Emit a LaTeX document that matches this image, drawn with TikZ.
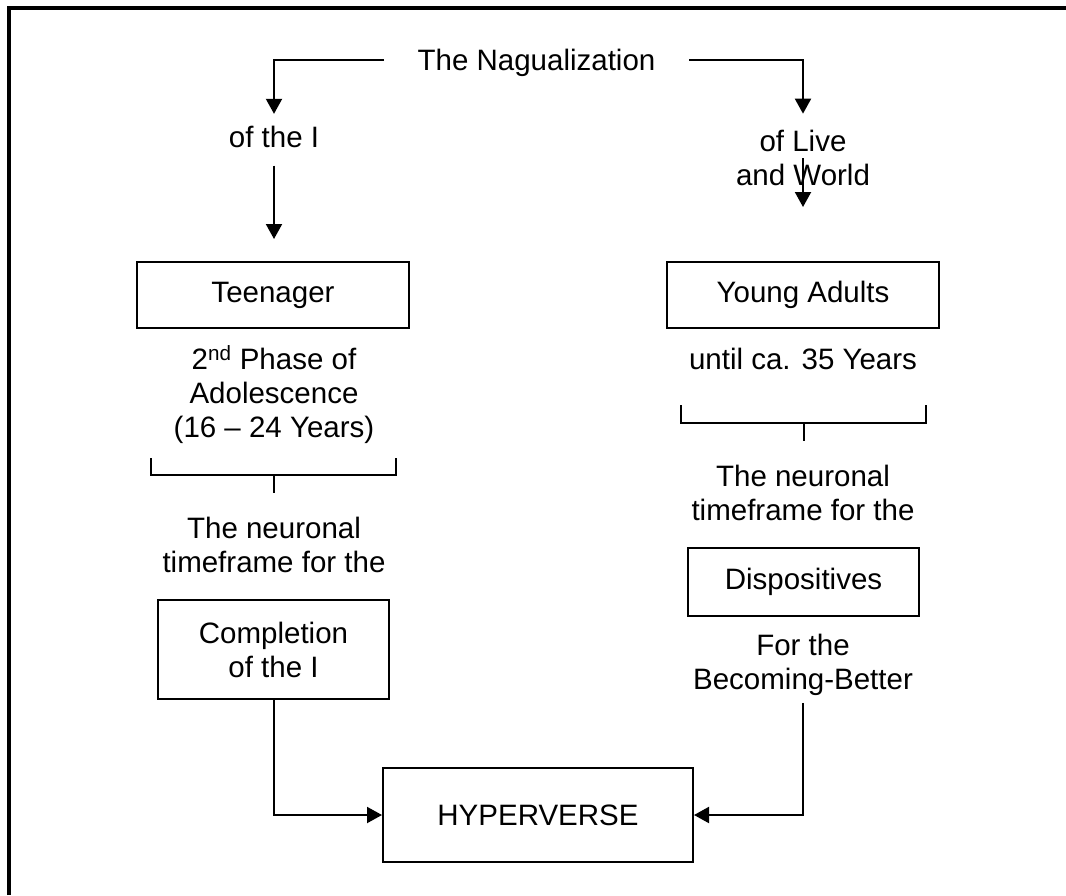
\documentclass[tikz,border=0pt]{standalone}
\usepackage{fontspec}
\setmainfont{Liberation Sans}
\usetikzlibrary{arrows.meta}

\begin{document}
\begin{tikzpicture}[x=1pt,y=-1pt,line width=2pt,
  arr/.style={-{Triangle[length=15pt,width=16pt]}},
  lbl/.style={align=center},
  box/.style={draw,align=center}]
\tikzstyle{every node}+=[inner sep=0pt,font=\fontsize{29.5}{34}\selectfont]
\useasboundingbox (0,0) rectangle (1066,895);
\draw [line width=4pt] (9,895) -- (9,8) -- (1066,8);
% top
\node (title) [minimum width=303pt,text depth=0pt] at (536.5,60) {The Nagualization};
\node (ofI) [text depth=0pt] at (274,137) {of the I};
\node (livew) [lbl] at (803,158) {of Live\\and World};
\draw [arr,shorten >=11.5pt] (title.west) -| (ofI.north);
\draw [arr,shorten >=15.5pt] (title.east) -| (livew.north);
% left column
\node (teen) [box,minimum width=272pt,minimum height=66pt] at (273,295) {Teenager};
\draw [arr,shorten <=17pt,shorten >=22pt] (ofI.south) -- (ofI.south |- teen.north);
\node (adol) [lbl] at (274,395) {2\textsuperscript{nd} Phase of\\Adolescence\\(16 – 24 Years)};
\draw (151,458) -- (151,475) -- (396,475) -- (396,458);
\draw (273.5,475) -- (273.5,493);
\node (neurL) [lbl] at (274,545) {The neuronal\\timeframe for the};
\node (compl) [box,minimum width=231pt,minimum height=99pt] at (273.5,649.5) {Completion\\of the I};
% right column
\coordinate (yaTip) at (803,207);
\draw [arr] (livew.center) -- (yaTip);
\node (young) [box,minimum width=272pt,minimum height=66pt] at (803,295) {Young Adults};
\node (until) [text depth=0pt] at (803,359) {until ca. 35 Years};
\draw (681,405) -- (681,423) -- (926,423) -- (926,405);
\draw (803.5,423) -- (803.5,441);
\node (neurR) [lbl] at (803,493) {The neuronal\\timeframe for the};
\node (disp) [box,minimum width=231pt,minimum height=68pt] at (803.5,582) {Dispositives};
\node (forbb) [lbl] at (803,665) {For the\\Becoming-Better};
% bottom
\node (hyper) [box,minimum width=310pt,minimum height=94pt] at (538,815) {HYPERVERSE};
\draw [arr] (compl.south) |- (hyper.west);
\draw [arr,shorten <=6pt] (forbb.south) |- (hyper.east);
\end{tikzpicture}
\end{document}
